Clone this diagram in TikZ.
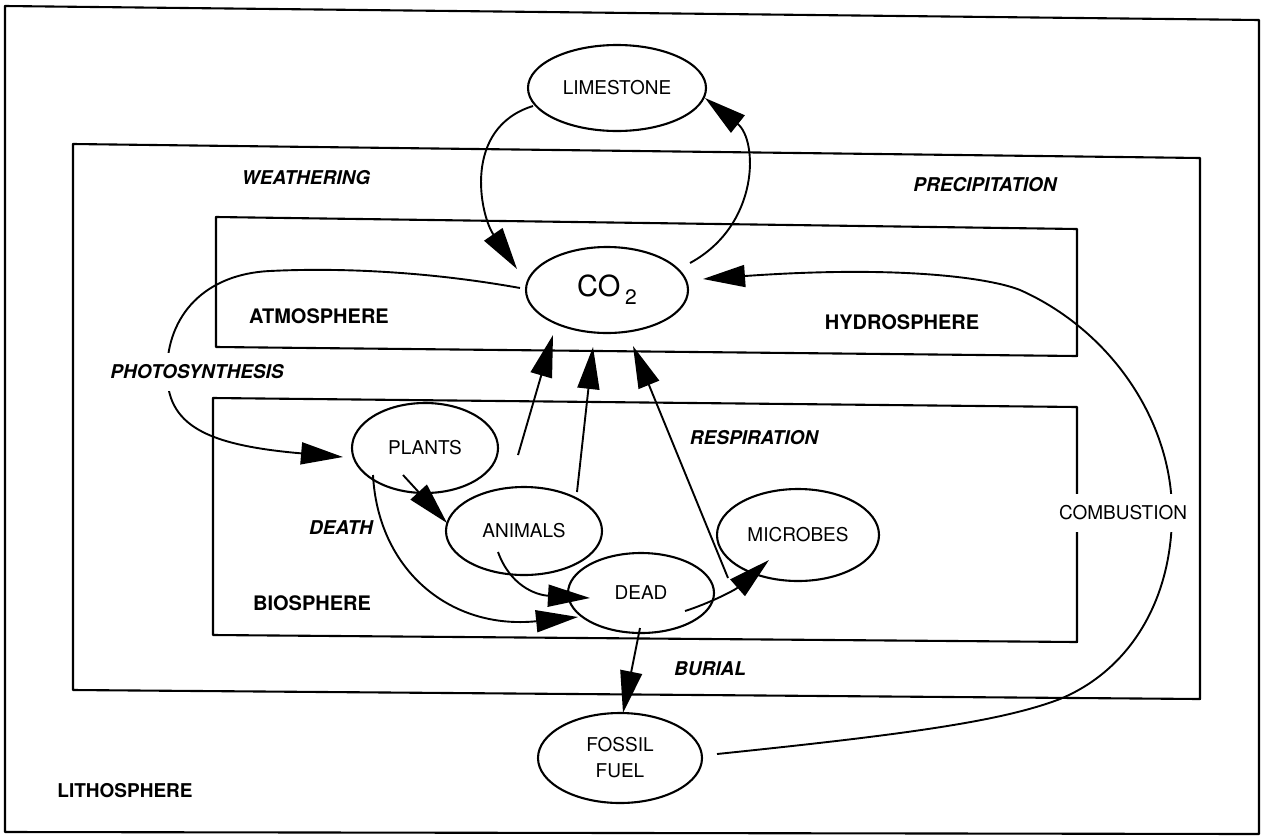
\documentclass[tikz,border=0pt]{standalone}
\usepackage{fontspec}
\setmainfont{TeX Gyre Heros}
\usetikzlibrary{shapes.geometric,arrows.meta,calc}
\begin{document}
\begin{tikzpicture}[x=1pt,y=-1pt,
  ell/.style={draw, ellipse, line width=2.1pt, inner sep=0pt, align=center,
    font=\fontsize{19}{26}\selectfont},
  flow/.style={line width=1.9pt, -{Triangle[length=42pt,width=22pt]}},
  sphere/.style={font=\fontsize{20}{22}\selectfont\bfseries},
  proc/.style={font=\fontsize{19}{21}\selectfont\bfseries\itshape},
  gap/.style={fill=white, inner xsep=2pt, inner ysep=12pt},
  box/.style={line width=2.1pt, line join=round}]
\useasboundingbox (0,0) rectangle (1265,838);

% boxes
\draw[box] (5,6) -- (1259,20) -- (1259,834) -- (5,832) -- cycle;
\draw[box] (73,144) -- (1200,158) -- (1200,699) -- (73,690) -- cycle;
\draw[box] (216,217) -- (1077,229) -- (1077,356) -- (216,347) -- cycle;
\draw[box] (213,398) -- (1077,407) -- (1077,642) -- (213,635) -- cycle;

% ellipses
\node[ell, minimum width=178pt, minimum height=86pt] (lime) at (617,88) {LIMESTONE};
\node[ell, minimum width=162pt, minimum height=86pt, font=\fontsize{29}{30}\selectfont] (co2) at (607,290) {CO\,\raisebox{-8pt}{\fontsize{21}{21}\selectfont 2}};
\node[ell, minimum width=146pt, minimum height=90pt] (plants) at (425,448) {PLANTS};
\node[ell, minimum width=156pt, minimum height=88pt] (animals) at (524,531) {ANIMALS};
\node[ell, minimum width=146pt, minimum height=80pt] (dead) at (641,593) {DEAD};
\node[ell, minimum width=162pt, minimum height=92pt] (microbes) at (798,535) {MICROBES};
\node[ell, minimum width=164pt, minimum height=90pt] (fossil) at (620,758) {FOSSIL\\FUEL};

% connectors
\draw[flow] ($(lime)+(-84,18)$) .. controls (462,128) and (480,215) .. ($(co2)+(-90,-21)$);
\draw[flow] ($(co2)+(83,-27)$) .. controls (760,225) and (758,140) .. ($(lime)+(88,10)$);
\draw[flow] ($(co2)+(-87,-2)$) .. controls (420,270) and (330,268) .. (270,271)
   .. controls (205,274) and (167,315) .. (167,372)
   .. controls (167,425) and (205,445) .. ($(plants)+(-82,9)$);
\draw[flow] ($(fossil)+(97,-4)$) .. controls (900,735) and (1000,722) .. (1060,699)
   .. controls (1130,670) and (1172,600) .. (1172,513)
   .. controls (1172,420) and (1110,330) .. (1020,290)
   .. controls (990,278) and (900,265) .. ($(co2)+(96,-11)$);
\draw[flow] ($(plants)+(-22,27)$) -- ($(animals)+(-77,-8)$);
\draw[flow] ($(plants)+(-52,27)$) .. controls (378,570) and (450,630) .. ($(dead)+(-63,24)$);
\draw[flow] ($(animals)+(-26,21)$) .. controls (510,585) and (535,595) .. ($(dead)+(-51,5)$);
\draw[flow] ($(plants)+(93,7)$) -- ($(co2)+(-54,45)$);
\draw[flow] ($(animals)+(53,-39)$) -- ($(co2)+(-14,57)$);
\draw[flow] ($(dead)+(87,-15)$) -- ($(co2)+(26,56)$);
\draw[flow] ($(dead)+(44,18)$) .. controls (710,603) and (735,590) .. ($(microbes)+(-29,25)$);
\draw[flow] ($(dead)+(-1,35)$) -- ($(fossil)+(3,-45)$);

% labels
\node[proc] (weath) at (306,178) {WEATHERING};
\node[proc] (precip) at (985,185) {PRECIPITATION};
\node[sphere] (atmo) at (319,316) {ATMOSPHERE};
\node[sphere] (hydro) at (902,322) {HYDROSPHERE};
\node[proc, gap] (photo) at (197,372) {PHOTOSYNTHESIS};
\node[proc] (resp) at (754,438) {RESPIRATION};
\node[proc] (death) at (341,528) {DEATH};
\node[sphere] (bio) at (312,603) {BIOSPHERE};
\node[proc] (burial) at (710,669) {BURIAL};
\node[gap, font=\fontsize{19}{21}\selectfont] (comb) at (1123,513) {COMBUSTION};
\node[sphere, font=\fontsize{19}{21}\selectfont\bfseries] (litho) at (125,791) {LITHOSPHERE};
\end{tikzpicture}
\end{document}
